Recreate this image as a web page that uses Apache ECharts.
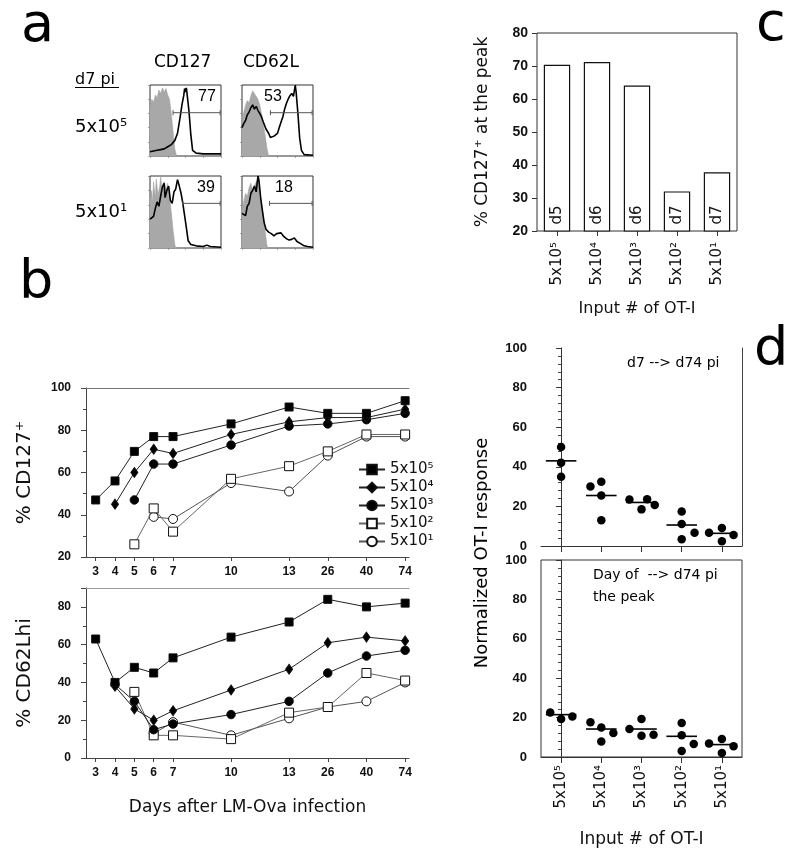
<!DOCTYPE html>
<html><head><meta charset="utf-8">
<script src="https://cdn.jsdelivr.net/npm/echarts@6/dist/echarts.min.js"></script>
<style>html,body{margin:0;padding:0;background:#fff}#c{width:800px;height:855px}</style>
</head><body><div id="c"></div>
<script>
// ---------------- DATA ----------------
// panel a: flow histograms (x = log decades 0..4, y = % of max)
const histCD127hiGray = [[0,68],[0.1,80],[0.2,76],[0.3,86],[0.4,82],[0.5,93],[0.6,88],[0.7,96],[0.8,90],[0.9,95],[1.0,86],[1.1,80],[1.2,60],[1.3,35],[1.4,10],[1.5,0]];
const histCD127hiBlack = [[0,6],[0.2,7],[0.4,8],[0.6,9],[0.8,10],[1.0,13],[1.2,16],[1.4,22],[1.55,32],[1.7,55],[1.8,72],[1.9,85],[1.95,95],[2.0,90],[2.05,96],[2.1,85],[2.2,62],[2.3,30],[2.4,8],[2.6,4],[3.0,3],[3.5,3],[4.0,3]];
const histCD62LhiGray = [[0,52],[0.1,62],[0.2,72],[0.3,78],[0.4,75],[0.5,85],[0.6,92],[0.7,88],[0.8,84],[0.9,80],[1.0,72],[1.1,60],[1.2,45],[1.3,30],[1.4,12],[1.5,0]];
const histCD62LhiBlack = [[0,40],[0.1,46],[0.2,50],[0.3,58],[0.4,62],[0.5,68],[0.6,72],[0.7,66],[0.8,70],[0.9,64],[1.0,60],[1.1,55],[1.2,48],[1.35,38],[1.5,32],[1.6,26],[1.7,24],[1.8,28],[1.9,30],[2.0,32],[2.1,40],[2.2,48],[2.3,55],[2.4,66],[2.5,74],[2.6,80],[2.7,85],[2.8,88],[2.9,84],[2.95,92],[3.0,100],[3.05,90],[3.15,60],[3.25,25],[3.35,8],[3.5,2],[4.0,1]];
const histCD127loGray = [[0,68],[0.1,80],[0.15,62],[0.2,92],[0.3,70],[0.35,96],[0.45,74],[0.55,86],[0.6,100],[0.7,78],[0.8,92],[0.9,80],[1.0,90],[1.1,72],[1.2,50],[1.3,25],[1.4,5],[1.45,0]];
const histCD127loBlack = [[0,40],[0.1,42],[0.2,44],[0.3,55],[0.4,64],[0.5,58],[0.6,72],[0.7,85],[0.8,90],[0.85,70],[0.95,80],[1.05,86],[1.15,66],[1.25,62],[1.35,78],[1.45,82],[1.55,95],[1.65,86],[1.75,76],[1.85,62],[1.95,45],[2.05,28],[2.15,10],[2.3,5],[2.6,3],[3.0,2],[3.2,4],[3.4,2],[4.0,1]];
const histCD62LloGray = [[0,50],[0.1,65],[0.2,76],[0.3,72],[0.4,84],[0.5,90],[0.6,80],[0.7,78],[0.8,92],[0.9,96],[1.0,70],[1.1,60],[1.2,42],[1.3,25],[1.4,5],[1.45,0]];
const histCD62LloBlack = [[0,48],[0.1,46],[0.2,45],[0.3,58],[0.4,62],[0.5,76],[0.6,80],[0.7,86],[0.8,78],[0.9,100],[0.95,95],[1.05,70],[1.15,52],[1.25,35],[1.35,26],[1.5,22],[1.65,20],[1.8,17],[1.95,20],[2.05,18],[2.2,21],[2.35,16],[2.5,13],[2.65,11],[2.8,12],[2.95,14],[3.1,9],[3.3,6],[3.5,3],[3.7,2],[4.0,1]];
const gateStart = [1.3, 1.6, 1.85, 1.55];
const gateEnd = [3.95, 3.95, 3.95, 3.95];
const gateLevel = [61, 61, 62, 62];
const gatePct = ['77', '53', '39', '18'];

// panel b
const dayLabels = ['3','4','5','6','7','10','13','26','40','74'];
const dayPos = [3,4,5,6,7,10,13,15,17,19];
const doseNames = ['5x10⁵','5x10⁴','5x10³','5x10²','5x10¹'];
const cd127_5e5 = [47,56,70,77,77,83,91,88,88,94];
const cd127_5e4 = [null,45,60,71,69,78,84,86,86,90];
const cd127_5e3 = [null,null,47,64,64,73,82,83,85,88];
const cd127_5e2 = [null,null,26,43,32,57,63,70,78,78];
const cd127_5e1 = [null,null,null,39,38,55,51,68,77,77];
const cd62l_5e5 = [63,40,48,45,53,64,72,84,80,82];
const cd62l_5e4 = [null,38,26,20,25,36,47,61,64,62];
const cd62l_5e3 = [null,39,30,15,18,23,30,45,54,57];
const cd62l_5e2 = [null,null,35,12,12,10,24,27,45,41];
const cd62l_5e1 = [null,null,null,13,19,12,21,27,30,40];

// panel c
const inputLabels = ['5x10⁵','5x10⁴','5x10³','5x10²','5x10¹'];
const peakCD127 = [70.4, 71.2, 64.1, 32, 37.8];
const peakDay = ['d5','d6','d6','d7','d7'];

// panel d (x = category index incl. horizontal jitter)
const d1X = [0,0,0, 0.73,1,1,1, 1.7,2,2.14,2.33, 3,3,3,3.32, 3.68,4,4,4.29];
const d1Y = [50,42,35, 30,32.5,25.5,13, 23.5,18.5,23.6,20.7, 17.4,11.1,3.4,6.7, 6.7,9.1,2.4,5.6];
const d1Median = [43, 25.5, 22, 10.6, 6.4];
const d2X = [-0.27,0,0.28, 0.73,1,1,1.3, 1.7,2,2,2.3, 3,3,3,3.3, 3.68,4,4,4.29];
const d2Y = [22.6,19.3,20.6, 17.7,15,7.9,12.2, 14.2,19.3,10.8,11.3, 17.2,11,3,6.6, 6.8,9.1,2,5.4];
const d2Median = [21.5, 14.2, 14.2, 10.5, 6.3];

// ---------------- CHART ----------------
const SANS = "'DejaVu Sans', sans-serif";
const ARIAL = "'Liberation Sans', Arial, sans-serif";
const chart = echarts.init(document.getElementById('c'), null, {renderer: 'canvas'});

const grid = [
  {left:150, top:85, width:71, height:71},
  {left:242, top:85, width:71, height:71},
  {left:150, top:176, width:71, height:72},
  {left:242, top:176, width:71, height:72},
  {left:537, top:33, width:200, height:198},   // c
  {left:86, top:388, width:323, height:169},   // b top
  {left:86, top:588, width:323, height:170},   // b bottom
  {left:541, top:348, width:201, height:198},  // d top
  {left:541, top:560, width:201, height:197}   // d bottom
];
[0,1,2,3,4,8].forEach(i => Object.assign(grid[i], {show:true, borderColor:'#333', borderWidth:1, backgroundColor:'transparent'}));

const xAxis = [], yAxis = [], series = [];

// panel a
const histSets = [
  [histCD127hiGray, histCD127hiBlack],
  [histCD62LhiGray, histCD62LhiBlack],
  [histCD127loGray, histCD127loBlack],
  [histCD62LloGray, histCD62LloBlack]
];
histSets.forEach((set, i) => {
  xAxis.push({gridIndex:i, type:'value', min:0, max:4, interval:1,
    axisLine:{show:false}, axisTick:{show:true, length:2, lineStyle:{color:'#777', width:0.6}},
    axisLabel:{show:false}, splitLine:{show:false}});
  yAxis.push({gridIndex:i, type:'value', min:0, max:100, interval:20,
    axisLine:{show:false}, axisTick:{show:true, length:2, lineStyle:{color:'#777', width:0.6}},
    axisLabel:{show:false}, splitLine:{show:false}});
  series.push({type:'line', xAxisIndex:i, yAxisIndex:i, data:set[0], symbol:'none', silent:true,
    lineStyle:{width:0.5, color:'#a0a0a0'}, areaStyle:{color:'#a8a8a8', opacity:1}, z:1});
  series.push({type:'line', xAxisIndex:i, yAxisIndex:i, data:set[1], symbol:'none', silent:true,
    lineStyle:{width:1.6, color:'#000'}, z:3});
  series.push({type:'custom', xAxisIndex:i, yAxisIndex:i, silent:true, z:4,
    data:[[gateStart[i], gateEnd[i], gateLevel[i]]], encode:{x:[0,1], y:2},
    renderItem:(params, api) => {
      const p1 = api.coord([api.value(0), api.value(2)]);
      const p2 = api.coord([api.value(1), api.value(2)]);
      const st = {stroke:'#555', lineWidth:1};
      return {type:'group', children:[
        {type:'line', shape:{x1:p1[0], y1:p1[1], x2:p2[0], y2:p2[1]}, style:st},
        {type:'line', shape:{x1:p1[0], y1:p1[1]-2.5, x2:p1[0], y2:p1[1]+2.5}, style:st},
        {type:'line', shape:{x1:p2[0], y1:p2[1]-2.5, x2:p2[0], y2:p2[1]+2.5}, style:st}
      ]};
    }});
});

// panel c (index 4)
xAxis.push({gridIndex:4, type:'category', data:inputLabels,
  axisLine:{show:false}, axisTick:{show:true, alignWithLabel:true, length:5, lineStyle:{color:'#333'}},
  axisLabel:{rotate:90, fontSize:15, fontFamily:SANS, color:'#111', margin:11},
  name:'Input # of OT-I', nameLocation:'middle', nameGap:70,
  nameTextStyle:{fontSize:16, fontFamily:SANS, color:'#111'}});
yAxis.push({gridIndex:4, type:'value', min:20, max:80, interval:10,
  axisLine:{show:false}, axisTick:{show:true, length:5, lineStyle:{color:'#333'}},
  axisLabel:{fontSize:14, fontWeight:'bold', fontFamily:ARIAL, color:'#111', margin:9},
  splitLine:{show:false},
  name:'% CD127⁺ at the peak', nameLocation:'middle', nameGap:46,
  nameTextStyle:{fontSize:17, fontFamily:SANS, color:'#111'}});
series.push({type:'bar', xAxisIndex:4, yAxisIndex:4, data:peakCD127, barWidth:'66%',
  itemStyle:{color:'#fff', borderColor:'#111', borderWidth:1.2},
  label:{show:true, position:'insideBottom', rotate:90, align:'left', verticalAlign:'middle', distance:7,
    formatter:p => peakDay[p.dataIndex], fontSize:15, fontFamily:SANS, color:'#111'}});

// panel b (indices 5, 6)
const bXAxis = (gi, withName) => ({gridIndex:gi, type:'value', min:2.5, max:19.2,
  axisLine:{show:true, lineStyle:{color:'#444'}},
  axisTick:{show:true, length:4, customValues:dayPos, lineStyle:{color:'#444'}},
  axisLabel:{customValues:dayPos, formatter:v => dayLabels[dayPos.indexOf(v)],
    fontSize:12, fontWeight:'bold', fontFamily:ARIAL, color:'#111', margin:9},
  splitLine:{show:false},
  name: withName ? 'Days after LM-Ova infection' : '', nameLocation:'middle', nameGap:41,
  nameTextStyle:{fontSize:17, fontFamily:SANS, color:'#111'}});
xAxis.push(bXAxis(5, false));
xAxis.push(bXAxis(6, true));
yAxis.push({gridIndex:5, type:'value', min:20, max:100, interval:20,
  axisLine:{show:true, lineStyle:{color:'#444'}},
  axisTick:{show:true, length:5, lineStyle:{color:'#444'}},
  minorTick:{show:true, splitNumber:2, length:3, lineStyle:{color:'#444'}},
  axisLabel:{fontSize:12, fontWeight:'bold', fontFamily:ARIAL, color:'#111', margin:15},
  splitLine:{show:false},
  name:'% CD127⁺', nameLocation:'middle', nameGap:51,
  nameTextStyle:{fontSize:20, fontFamily:SANS, color:'#111'}});
yAxis.push({gridIndex:6, type:'value', min:0, max:90, interval:20,
  axisLine:{show:true, lineStyle:{color:'#444'}},
  axisTick:{show:true, length:5, lineStyle:{color:'#444'}},
  minorTick:{show:true, splitNumber:2, length:3, lineStyle:{color:'#444'}},
  axisLabel:{fontSize:12, fontWeight:'bold', fontFamily:ARIAL, color:'#111', margin:15, showMaxLabel:false},
  splitLine:{show:false},
  name:'% CD62Lhi', nameLocation:'middle', nameGap:51,
  nameTextStyle:{fontSize:20, fontFamily:SANS, color:'#111'}});
// top border lines of panel b plots
xAxis.push({gridIndex:5, type:'value', position:'top', min:2.5, max:19.2,
  axisLine:{show:true, lineStyle:{color:'#777'}}, axisTick:{show:false}, axisLabel:{show:false}, splitLine:{show:false}});
xAxis.push({gridIndex:6, type:'value', position:'top', min:2.5, max:19.2,
  axisLine:{show:true, lineStyle:{color:'#999'}}, axisTick:{show:false}, axisLabel:{show:false}, splitLine:{show:false}});

const markerStyle = [
  {symbol:'rect', size:8, fill:'#000', line:'#222'},
  {symbol:'diamond', size:[7,10], fill:'#000', line:'#222'},
  {symbol:'circle', size:8.5, fill:'#000', line:'#222'},
  {symbol:'rect', size:9, fill:'#fff', line:'#666'},
  {symbol:'circle', size:9, fill:'#fff', line:'#555'}
];
const toXY = vals => { const out = []; vals.forEach((v, i) => { if (v != null) out.push([dayPos[i], v]); }); return out; };
const cd127Sets = [cd127_5e5, cd127_5e4, cd127_5e3, cd127_5e2, cd127_5e1];
const cd62lSets = [cd62l_5e5, cd62l_5e4, cd62l_5e3, cd62l_5e2, cd62l_5e1];
[[cd127Sets, 5], [cd62lSets, 6]].forEach(([sets, gi]) => {
  sets.forEach((vals, k) => {
    const m = markerStyle[k];
    series.push({type:'line', name:doseNames[k], xAxisIndex:gi, yAxisIndex:gi, data:toXY(vals),
      symbol:m.symbol, symbolSize:m.size, showAllSymbol:true,
      lineStyle:{width:1, color:m.line},
      itemStyle:{color:m.fill, borderColor:'#111', borderWidth:1},
      z: 5 - k});
  });
});

// panel d (indices 7, 8)
const dXAxis = (gi, withLabels) => ({gridIndex:gi, type:'value', min:-0.5, max:4.5,
  axisLine:{show:true, lineStyle:{color:'#333'}},
  axisTick:{show:true, length:6, customValues:[0,1,2,3,4], lineStyle:{color:'#333'}},
  axisLabel:{show:withLabels, customValues:[0,1,2,3,4], formatter:v => inputLabels[Math.round(v)],
    rotate:90, fontSize:15, fontFamily:SANS, color:'#111', margin:8},
  splitLine:{show:false},
  name: withLabels ? 'Input # of OT-I' : '', nameLocation:'middle', nameGap:74,
  nameTextStyle:{fontSize:17, fontFamily:SANS, color:'#111'}});
xAxis.push(dXAxis(7, false));
xAxis.push(dXAxis(8, true));
const dYAxis = gi => ({gridIndex:gi, type:'value', min:0, max:100, interval:20,
  axisLine:{show:true, lineStyle:{color:'#333'}},
  axisTick:{show:true, length:5, lineStyle:{color:'#333'}},
  minorTick:{show:true, splitNumber:5, length:3, lineStyle:{color:'#444'}},
  axisLabel:{fontSize:13, fontWeight:'bold', fontFamily:ARIAL, color:'#111', margin:14},
  splitLine:{show:false}});
const dY1 = yAxis.length; yAxis.push(dYAxis(7));
const dY2 = yAxis.length; yAxis.push(dYAxis(8));
yAxis.push({gridIndex:7, type:'value', position:'right', min:0, max:100,
  axisLine:{show:true, lineStyle:{color:'#444'}}, axisTick:{show:false}, axisLabel:{show:false}, splitLine:{show:false}});
const dX1 = xAxis.length - 2, dX2 = xAxis.length - 1;

const medianRender = (params, api) => {
  const c = api.value(0), m = api.value(1);
  const p1 = api.coord([c - 0.38, m]);
  const p2 = api.coord([c + 0.38, m]);
  return {type:'line', shape:{x1:p1[0], y1:p1[1], x2:p2[0], y2:p2[1]}, style:{stroke:'#000', lineWidth:1.6}};
};
[[d1X, d1Y, d1Median, dX1, dY1], [d2X, d2Y, d2Median, dX2, dY2]].forEach(([xs, ys, med, xi, yi]) => {
  series.push({type:'scatter', xAxisIndex:xi, yAxisIndex:yi, data:xs.map((x, i) => [x, ys[i]]),
    symbol:'circle', symbolSize:8.5, itemStyle:{color:'#000', opacity:1}, z:3});
  series.push({type:'custom', xAxisIndex:xi, yAxisIndex:yi, data:med.map((m, i) => [i, m]),
    encode:{x:0, y:1}, renderItem:medianRender, z:4, silent:true});
});

const txt = (text, x, y, size, extra) => Object.assign({type:'text', x, y,
  style:Object.assign({text, fontSize:size, fontFamily:SANS, fill:'#000', verticalAlign:'middle'}, extra || {})});

const graphic = [
  txt('a', 21, 27, 54),
  txt('b', 19, 284, 54),
  txt('c', 756, 26, 54),
  txt('d', 754, 351, 54),
  txt('CD127', 154, 63, 17),
  txt('CD62L', 243, 63, 17),
  txt('d7 pi', 75, 80, 16),
  {type:'line', shape:{x1:75, y1:87.5, x2:119, y2:87.5}, style:{stroke:'#000', lineWidth:1}},
  txt('5x10⁵', 75, 127, 18),
  txt('5x10¹', 75, 212, 18),
  txt(gatePct[0], 198, 97, 16, {fontFamily:ARIAL}),
  txt(gatePct[1], 264, 97, 16, {fontFamily:ARIAL}),
  txt(gatePct[2], 197, 188, 16, {fontFamily:ARIAL}),
  txt(gatePct[3], 275, 188, 16, {fontFamily:ARIAL}),
  txt('d7 --> d74 pi', 627, 363, 14),
  txt('Day of  --> d74 pi', 593, 575, 14),
  txt('the peak', 593, 597, 14),
  txt('Normalized OT-I response', 482, 553, 18, {align:'center'})
];
graphic[graphic.length - 1].rotation = Math.PI / 2;

chart.setOption({
  animation:false,
  backgroundColor:'#fff',
  grid, xAxis, yAxis, series,
  legend:{data:doseNames, orient:'vertical', left:353, top:457, itemWidth:26, itemHeight:12, itemGap:3,
    textStyle:{fontSize:15, fontFamily:SANS, color:'#111', lineHeight:14}, selectedMode:false},
  graphic
});
</script></body></html>
